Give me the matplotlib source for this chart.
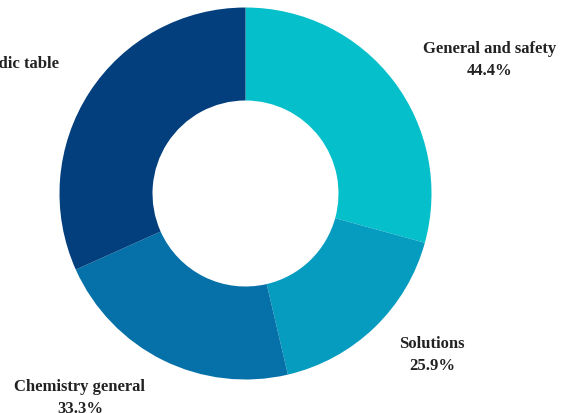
import matplotlib.pyplot as plt

# topics named by respondents (multiple answers allowed, n = 27)
topics = ["General and safety", "Solutions", "Chemistry general", "Periodic table"]
counts = [12, 7, 9, 13]
n_respondents = 27
colors = ["#05c0cb", "#059cc0", "#0571a8", "#033f7d"]

# where each label sits, in pixel units of the figure (x, y from top-left)
label_px = [(490, 60.5), (432, 355.5), (80, 398.5), (59, 64)]

W, H = 564, 414
cx, cy, R = 245.5, 194.5, 186.0

fig = plt.figure(figsize=(W / 100, H / 100), dpi=100)
ax = fig.add_axes([0, 0, 1, 1])
ax.pie(counts, colors=colors, startangle=90, counterclock=False,
       radius=1.0, wedgeprops=dict(width=0.5, edgecolor="none"))

ax.set_xlim(-cx / R, (W - cx) / R)
ax.set_ylim(-(H - cy) / R, cy / R)
ax.set_aspect("equal")
ax.axis("off")

for name, c, (px, py) in zip(topics, counts, label_px):
    pct = c / n_respondents * 100
    x = (px - cx) / R
    y = (cy - py) / R
    if name == "Periodic table":
        # only the name fits, the rest runs off the left edge
        ax.text(x, y, name, ha="right", va="center", fontsize=12,
                fontweight="bold", family=["Liberation Serif"], color="#222222")
    else:
        ax.text(x, y, f"{name}\n{pct:.1f}%", ha="center", va="center",
                fontsize=12, fontweight="bold", family=["Liberation Serif"],
                color="#222222", linespacing=1.5)

fig.savefig("out.png", dpi=100)
